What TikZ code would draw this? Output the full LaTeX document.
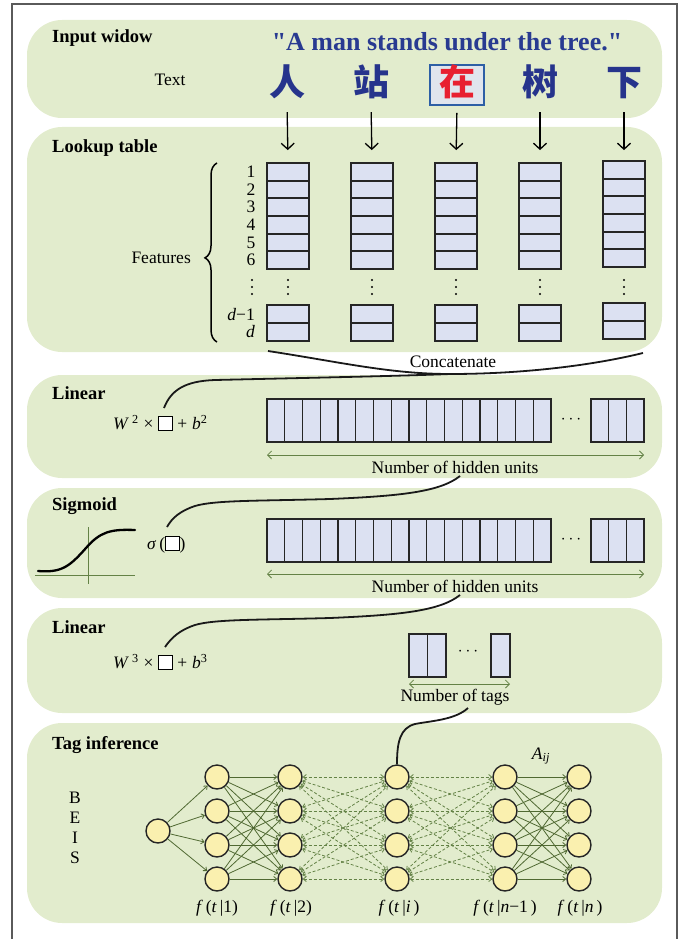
\documentclass[tikz,border=0pt]{standalone}
\usepackage{fontspec}
\setmainfont{Liberation Serif}
\newfontfamily\quotefont{Liberation Serif}[Ligatures=TeXOff]
\newfontfamily\cjk{Noto Sans CJK SC}
\usetikzlibrary{arrows.meta,decorations.pathreplacing}
\definecolor{panel}{RGB}{226,236,205}
\definecolor{cellfill}{RGB}{220,225,242}
\definecolor{navy}{RGB}{38,52,140}
\definecolor{quoteblue}{RGB}{40,58,145}
\definecolor{olive}{RGB}{80,105,50}
\definecolor{oliveL}{RGB}{100,130,70}
\definecolor{nodefill}{RGB}{250,240,175}
\definecolor{redch}{RGB}{232,32,48}
\definecolor{boxblue}{RGB}{45,95,165}
\definecolor{boxfill}{RGB}{224,229,237}
\definecolor{framegray}{RGB}{90,90,90}
\setlength{\fboxsep}{0pt}
\setlength{\fboxrule}{0.7pt}
\newcommand{\myemptybox}{\fcolorbox{black}{white}{\rule{0pt}{13pt}\hspace{13pt}}}
\newcommand{\myvdots}[2]{\foreach \dd in {-7,0,7} \fill (#1,#2+\dd) circle (1.1pt);}
\begin{document}
\begin{tikzpicture}[x=1pt,y=-1pt, font=\fontsize{17.5}{20}\selectfont,
 title/.style={anchor=west, inner sep=0pt, font=\fontsize{18.5}{22}\selectfont\bfseries},
 cell/.style={draw=black!85, line width=1.8pt, fill=cellfill, inner sep=0pt, minimum width=42pt},
 sepl/.style={line width=1.8pt, draw=black!85},
 ucell/.style={draw=black!85, line width=1.3pt, fill=cellfill, inner sep=0pt},
 usep/.style={line width=1.3pt, draw=black!85},
 cjkch/.style={font=\fontsize{36}{40}\cjk\bfseries, inner sep=0pt, text height=31pt, text depth=5pt},
 downarr/.style={-{Straight Barb[length=6pt,width=13pt]}, line width=1.3pt},
 dimarr/.style={{Straight Barb[length=4pt,width=8pt]}-{Straight Barb[length=4pt,width=8pt]}, line width=0.8pt, draw=oliveL},
 conn/.style={line width=1.8pt, draw=black!90},
 tnode/.style={circle, draw=black!85, line width=1.4pt, fill=nodefill, minimum size=24pt, inner sep=0pt},
 sedge/.style={-{Straight Barb[length=3pt,width=5pt]}, line width=0.8pt, draw=olive},
 dedge/.style={{Straight Barb[length=3pt,width=5pt]}-{Straight Barb[length=3pt,width=5pt]}, line width=0.8pt, draw=oliveL, dash pattern=on 3pt off 2pt},
]
\useasboundingbox (0,0) rectangle (679,939);
\draw[framegray, line width=1.2pt] (12,939) -- (12,4) -- (677,4) -- (677,939);

% panels
\fill[panel, rounded corners=35pt] (27,20) rectangle (662,118);
\fill[panel, rounded corners=35pt] (27,127) rectangle (662,352);
\fill[panel, rounded corners=35pt] (27,375) rectangle (662,478);
\fill[panel, rounded corners=35pt] (27,488) rectangle (662,598);
\fill[panel, rounded corners=35pt] (27,608) rectangle (662,713);
\fill[panel, rounded corners=35pt] (27,723) rectangle (662,923);

% titles
\node[title] (t1) at (52,38) {Input widow};
\node[title] (t2) at (52,148) {Lookup table};
\node[title] (t3) at (52,393) {Linear};
\node[title] (t4) at (52,506) {Sigmoid};
\node[title] (t5) at (52,627) {Linear};
\node[title] (t6) at (52,745) {Tag inference};

% input window
\node[font=\fontsize{26}{30}\quotefont\bfseries, text=quoteblue] (quote) at (447,42) {"A man stands under the tree."};
\node (textlbl) at (170,80) {Text};
\node[cjkch, text=navy] (ch1) at (287,83) {人};
\node[cjkch, text=navy] (ch2) at (371,83) {站};
\node[draw=boxblue, line width=1.6pt, fill=boxfill, minimum width=54pt, minimum height=40pt, inner sep=0pt] (ch3box) at (457,85) {};
\node[cjkch, text=redch] (ch3) at (457,83) {在};
\node[cjkch, text=navy] (ch4) at (540,83) {树};
\node[cjkch, text=navy] (ch5) at (624,83) {下};

% lookup table
\foreach \i/\x/\dy in {1/288/0, 2/372/0, 3/456/0, 4/540/0, 5/624/-2} {
  \node[cell, minimum height=106pt] (col\i) at (\x,216+\dy) {};
  \foreach \k in {1,...,5} \draw[sepl] (\x-21,163+\dy+17.667*\k) -- (\x+21,163+\dy+17.667*\k);
  \node[cell, minimum height=36pt] (bot\i) at (\x,323+\dy) {};
  \draw[sepl] (\x-21,323+\dy) -- (\x+21,323+\dy);
  \myvdots{\x}{287}
}
\foreach \k in {1,...,6} \node[inner sep=0pt] (r\k) at (251,154.2+17.667*\k) {\k};
\myvdots{252}{287}
\node[anchor=east, inner sep=0pt] (rd1) at (255,315) {\textit{d}−1};
\node[anchor=east, inner sep=0pt] (rd) at (255,332) {\textit{d}};
\draw[decorate, decoration={brace, amplitude=12pt, aspect=0.47}, line width=1.5pt] (217,342) -- (217,163);
\node[anchor=east, inner sep=0pt] (feat) at (191,258) {Features};

% arrows from characters
\draw[downarr, shorten <=11pt, shorten >=12pt] (ch1.south) -- (col1.north);
\draw[downarr, shorten <=11pt, shorten >=12pt] (ch2.south) -- (col2.north);
\draw[downarr, shorten <=7pt, shorten >=12pt] (ch3box.south) -- (col3.north);
\draw[downarr, shorten <=11pt, shorten >=12pt] (ch4.south) -- (col4.north);
\draw[downarr, shorten <=11pt, shorten >=10pt] (ch5.south) -- (col5.north);

% concatenate
\node[inner sep=0pt] (concat) at (453,362) {Concatenate};
\coordinate (cL) at (268,351);
\coordinate (cM) at (450,374);
\coordinate (cR) at (643,353);
\draw[conn] (cL) .. controls (340,362) and (390,374) .. (cM) .. controls (520,374) and (590,366) .. (cR);

% Linear 1
\node[anchor=west, inner sep=0pt] (lin2) at (113,423) {\textit{W}\,\textsuperscript{2}\;×\;\myemptybox\;+\;\textit{b}\textsuperscript{2}};
\coordinate (lin2in) at (164,408);
\draw[conn] (cM) .. controls (400,376) and (300,378) .. (215,380) .. controls (185,381) and (171,390) .. (lin2in);
\node[ucell, minimum width=284pt, minimum height=43pt] (hid3) at (409,420.5) {};
\foreach \k in {1,...,15} \draw[usep] (267+17.75*\k,399) -- (267+17.75*\k,442);
\node[ucell, minimum width=53pt, minimum height=43pt] (hid3b) at (617.5,420.5) {};
\foreach \k in {1,2} \draw[usep] (591+17.667*\k,399) -- (591+17.667*\k,442);
\node[inner sep=0pt] (hdots3) at (571,420) {$\cdots$};
\draw[dimarr] (267,455) -- (644,455);
\node[inner sep=0pt] (nh3) at (455,467) {Number of hidden units};

% Sigmoid
\draw[oliveL, line width=0.9pt] (35,575) -- (135,575);
\draw[oliveL, line width=0.9pt] (88,527) -- (88,584);
\draw[line width=2.3pt, line cap=round] (38,571) .. controls (62,573) and (70,566) .. (86,548) .. controls (100,532) and (110,529) .. (135,530);
\node[anchor=west, inner sep=0pt] (sig) at (147,545) {\textit{σ}\,(\myemptybox)};
\coordinate (sigin) at (167,527);
\coordinate (nh3out) at (460,476);
\draw[conn] (nh3out) .. controls (440,492) and (400,496) .. (330,499) .. controls (260,501) and (215,500) .. (195,506) .. controls (180,511) and (172,518) .. (sigin);
\node[ucell, minimum width=284pt, minimum height=43pt] (hid4) at (409,540.5) {};
\foreach \k in {1,...,15} \draw[usep] (267+17.75*\k,519) -- (267+17.75*\k,562);
\node[ucell, minimum width=53pt, minimum height=43pt] (hid4b) at (617.5,540.5) {};
\foreach \k in {1,2} \draw[usep] (591+17.667*\k,519) -- (591+17.667*\k,562);
\node[inner sep=0pt] (hdots4) at (571,540) {$\cdots$};
\draw[dimarr] (267,574) -- (644,574);
\node[inner sep=0pt] (nh4) at (455,586) {Number of hidden units};

% Linear 2
\node[anchor=west, inner sep=0pt] (lin3) at (113,662) {\textit{W}\,\textsuperscript{3}\;×\;\myemptybox\;+\;\textit{b}\textsuperscript{3}};
\coordinate (lin3in) at (165,647);
\coordinate (nh4out) at (460,595);
\draw[conn] (nh4out) .. controls (440,611) and (400,615) .. (330,618) .. controls (260,620) and (215,619) .. (195,625) .. controls (180,630) and (172,637) .. (lin3in);
\node[ucell, minimum width=37pt, minimum height=43pt] (tag1) at (427.5,655.5) {};
\draw[usep] (427.5,634) -- (427.5,677);
\node[inner sep=0pt] (tdots) at (468,652) {$\cdots$};
\node[ucell, minimum width=19pt, minimum height=43pt] (tag2) at (500.5,655.5) {};
\draw[dimarr] (409,684) -- (510,684);
\node[inner sep=0pt] (ntags) at (455,697) {Number of tags};
\coordinate (ntout) at (468,708);

% Tag inference
\node at (75,798) {B};
\node at (75,818) {E};
\node at (75,838) {I};
\node at (75,858) {S};
\node[tnode] (g0) at (158,831) {};
\foreach \c/\x in {1/217,2/290,3/397,4/505,5/579}
  \foreach \r/\y in {1/777,2/811,3/845,4/879}
    \node[tnode] (g\c-\r) at (\x,\y) {};
\foreach \r in {1,...,4} \draw[sedge] (g0) -- (g1-\r);
\foreach \a in {1,...,4} \foreach \b in {1,...,4} {
  \draw[sedge] (g1-\a) -- (g2-\b);
  \draw[dedge] (g2-\a) -- (g3-\b);
  \draw[dedge] (g3-\a) -- (g4-\b);
  \draw[sedge] (g4-\a) -- (g5-\b);
}
\draw[conn] (ntout) .. controls (455,720) and (430,721) .. (415,724) .. controls (400,728) and (397,742) .. (g3-1.north);
\node[inner sep=0pt] (aij) at (541,756) {\textit{A}\textsubscript{\textit{ij}}};
\node[inner sep=0pt] (lf1) at (217,908) {\textit{f}\,(\textit{t}\,|1)};
\node[inner sep=0pt] (lf2) at (291,908) {\textit{f}\,(\textit{t}\,|2)};
\node[inner sep=0pt] (lfi) at (399,908) {\textit{f}\,(\textit{t}\,|\textit{i}\,)};
\node[inner sep=0pt] (lfn1) at (505,908) {\textit{f}\,(\textit{t}\,|\textit{n}−1\,)};
\node[inner sep=0pt] (lfn) at (580,908) {\textit{f}\,(\textit{t}\,|\textit{n}\,)};
\end{tikzpicture}
\end{document}
